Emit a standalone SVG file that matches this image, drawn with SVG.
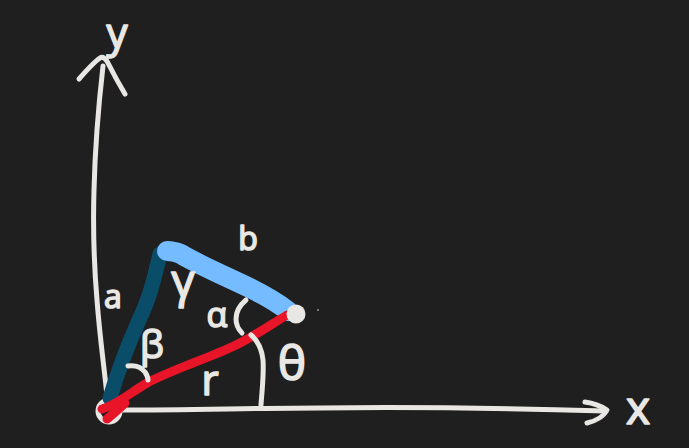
<svg xmlns="http://www.w3.org/2000/svg" width="689" height="448" viewBox="0 0 689 448">
<style>
.s{fill:none;stroke-linecap:round;stroke-linejoin:round}
.w{stroke:#e9e7e4;stroke-width:5}
.t{fill:#e9e7e4;stroke:#e9e7e4;stroke-width:1.6;stroke-linejoin:round;font-family:"Open Sans","DejaVu Sans",sans-serif;text-anchor:middle}
</style>
<rect width="689" height="448" fill="#1f1f1f"/>
<g id="axes">
<path class="s w" d="M107 396C104 365 100 340 97 300C94 265 93 225 94 190C95 150 98 110 103 66"/>
<path class="s w" d="M79 79C86 71 94 62 100 58C103 56 106 59 108 63C113 73 119 84 125 94"/>
<path class="s w" d="M121 410C190 410 260 408 320 408C400 407 500 408 605 411"/>
<path class="s w" d="M585 402C593 403 601 406 607 410C604 416 596 421 587 423"/>
</g>
<circle cx="109" cy="411" r="11" fill="none" stroke="#e9e7e4" stroke-width="5"/>
<g id="links">
<path class="s" stroke="#0a4d68" stroke-width="15" d="M160 254C155 275 150 298 139 320C128 345 118 370 110 398"/>
<path class="s" stroke="#74bcff" stroke-width="20" d="M167 251C172 251 176 252 181 254C195 263 225 276 250 288C266 296 278 303 288 311"/>
<path class="s" stroke="#e81428" stroke-width="9" d="M102 409C118 404 130 393 147 383C160 376 178 369 193 363C210 356 225 351 240 343C256 335 272 324 287 315"/>
<path class="s" stroke="#e81428" stroke-width="9" d="M107 419C113 414 119 409 125 403"/>
<circle cx="296" cy="314" r="9.5" fill="#e9e7e4"/>
<circle cx="318" cy="310" r="0.8" fill="#e9e7e4"/>
</g>
<g id="angles">
<path class="s w" d="M251 335C258 341 262 350 263 360C264 375 262 390 261 405"/>
<path class="s w" d="M246 300C240 305 236 312 236 319C236 325 239 330 242 333"/>
<path class="s w" d="M128 366C135 365 141 367 145 372C147 375 148 378 148 380"/>
</g>
<g id="labels">
<text class="t" x="117" y="48" font-size="42">y</text>
<text class="t" x="638" y="424" font-size="46">x</text>
<text class="t" x="113" y="308" font-size="32">a</text>
<text class="t" x="248" y="250" font-size="32">b</text>
<text class="t" x="217" y="327" font-size="34">α</text>
<text class="t" x="152" y="358" font-size="38">β</text>
<text class="t" x="210" y="395" font-size="42">r</text>
<text class="t" x="292" y="380" font-size="48">θ</text>
<text class="t" x="183" y="297" font-size="46">γ</text>
</g>
</svg>
